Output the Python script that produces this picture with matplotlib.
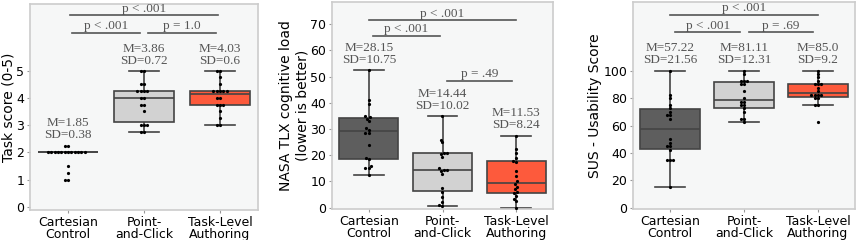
import numpy as np
import pandas as pd
import matplotlib
matplotlib.use("Agg")
import matplotlib.pyplot as plt
import seaborn as sns

# categorias y datos (18 participantes por condicion)
condiciones = ["Cartesian\nControl", "Point-\nand-Click", "Task-Level\nAuthoring"]
colores = ["#5e5e5e", "#d2d2d2", "#fd5a3c"]

task_cartesian = [2.25, 2.25, 2, 2, 2, 2, 2, 2, 2, 2, 2, 2, 2, 2, 1.5, 1.25, 1, 1]
task_point = [5, 5, 4.5, 4.5, 4.25, 4.25, 4.25, 4.25, 4, 4, 3.75, 3.75, 3.5, 3, 3, 3, 2.75, 2.75]
task_tla = [5, 5, 4.75, 4.5, 4.25, 4.25, 4.25, 4.25, 4.25, 4, 4, 3.75, 3.75, 3.75, 3.5, 3.25, 3, 3]

tlx_cartesian = [52.5, 41, 39.5, 35, 34.5, 34, 33, 30.5, 29.8, 28.5, 28.5, 24, 19, 18.5, 16, 15, 15, 12.5]
tlx_point = [35, 26, 25, 21, 21, 20.5, 19.5, 15, 14.5, 14.5, 14, 13, 7.5, 6, 4, 2, 1, 0.5]
tlx_tla = [27.5, 22.5, 21, 19, 18, 17.5, 14, 12, 10, 9, 8, 7, 6, 5.5, 4.5, 3.5, 2.5, 0]

sus_cartesian = [100, 82.5, 80, 75, 72.5, 70, 67.5, 67.5, 65, 50, 47.5, 45, 45, 42.5, 35, 35, 35, 15]
sus_point = [100, 97.5, 92.5, 92.5, 92.5, 90, 90, 85, 80, 77.5, 77.5, 75, 75, 72.5, 70, 65, 65, 62.5]
sus_tla = [100, 97.5, 95, 92.5, 90, 90, 90, 87.5, 85, 82.5, 82.5, 82.5, 82.5, 80, 80, 75, 75, 62.5]

# textos de media y desviacion que aparecen en la figura
task_stats = [("1.85", "0.38"), ("3.86", "0.72"), ("4.03", "0.6")]
tlx_stats = [("28.15", "10.75"), ("14.44", "10.02"), ("11.53", "8.24")]
sus_stats = [("57.22", "21.56"), ("81.11", "12.31"), ("85.0", "9.2")]

# barras de significancia: (desde, hasta, altura, texto)
task_sig = [(0.05, 0.95, 6.4, "p < .001"), (1.05, 1.95, 6.4, "p = 1.0"), (0.02, 1.98, 7.03, "p < .001")]
tlx_sig = [(0.06, 0.96, 65.5, "p < .001"), (0.0, 2.0, 71.5, "p < .001"), (1.06, 1.94, 48.3, "p = .49")]
sus_sig = [(0.07, 0.95, 128, "p < .001"), (1.07, 1.93, 128, "p = .69"), (0.0, 2.0, 140.5, "p < .001")]

fig = plt.figure(figsize=(8.58, 2.4), dpi=100)
ax1 = fig.add_axes([30 / 858, 30 / 240, 228 / 858, 206 / 240])
ax2 = fig.add_axes([332 / 858, 31 / 240, 221 / 858, 207 / 240])
ax3 = fig.add_axes([633 / 858, 31 / 240, 222 / 858, 207 / 240])

serif = "Liberation Serif"
gris_texto = "#555555"


def panel(ax, grupos, stats, sig, ylabel, ylim, yticks):
    df = pd.DataFrame({
        "cond": np.repeat(condiciones, [len(g) for g in grupos]),
        "val": np.concatenate(grupos),
    })
    ax.set_facecolor("#f6f7f7")
    sns.boxplot(data=df, x="cond", y="val", order=condiciones, hue="cond",
                palette=colores, legend=False, showfliers=False, width=0.8,
                linewidth=1.2, linecolor="#444444", saturation=1, ax=ax)
    sns.swarmplot(data=df, x="cond", y="val", order=condiciones, color="black",
                  size=2.3, ax=ax, zorder=5)
    for i, (m, sd) in enumerate(stats):
        ax.annotate(f"M={m}\nSD={sd}", xy=(i, max(grupos[i])), xytext=(0, 3),
                    textcoords="offset points", ha="center", va="bottom",
                    fontsize=9.5, family=serif, color=gris_texto, linespacing=1.0)
    for x0, x1, y, txt in sig:
        ax.plot([x0, x1], [y, y], color="#555555", lw=1.2)
        ax.annotate(txt, xy=((x0 + x1) / 2, y), xytext=(0, 0.5),
                    textcoords="offset points", ha="center", va="bottom",
                    fontsize=9.5, family=serif, color=gris_texto)
    ax.set_ylim(ylim)
    ax.set_xlim(-0.5, 2.5)
    ax.set_yticks(yticks)
    ax.set_xlabel("")
    ax.set_ylabel(ylabel, fontsize=10, labelpad=1)
    ax.tick_params(axis="both", labelsize=9, length=2.5, color="#999999", pad=1.5)
    for lab in ax.get_xticklabels():
        lab.set_linespacing(0.95)
    for s in ax.spines.values():
        s.set_color("#cccccc")
        s.set_linewidth(1.2)


panel(ax1, [task_cartesian, task_point, task_tla], task_stats, task_sig,
      "Task score (0-5)", (-0.12, 7.45), [0, 1, 2, 3, 4, 5])
panel(ax2, [tlx_cartesian, tlx_point, tlx_tla], tlx_stats, tlx_sig,
      "NASA TLX cognitive load\n(lower is better)", (-0.5, 78.5), range(0, 71, 10))
panel(ax3, [sus_cartesian, sus_point, sus_tla], sus_stats, sus_sig,
      "SUS - Usability Score", (-0.8, 150), range(0, 101, 20))

fig.savefig("out.png", dpi=100)
